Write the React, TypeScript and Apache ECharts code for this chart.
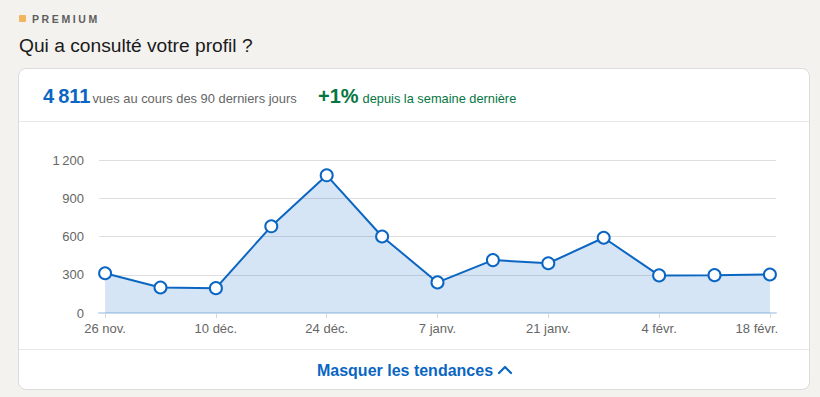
import React, { useEffect, useRef } from "react";
import * as echarts from "echarts";

const CATEGORIES = [
  "26 nov.", "3 déc.", "10 déc.", "17 déc.", "24 déc.", "31 déc.", "7 janv.",
  "14 janv.", "21 janv.", "28 janv.", "4 févr.", "11 févr.", "18 févr.",
];
const VIEWS = [312, 200, 195, 680, 1080, 600, 240, 415, 390, 590, 295, 297, 302];
const X_TICKS = [0, 2, 4, 6, 8, 10, 12];
const Y_MAX = 1200;
const Y_INTERVAL = 300;
const TOTAL_VIEWS = "4\u202f811";
const CHANGE = "+1%";

const FONT = '"Liberation Sans", Arial, Helvetica, sans-serif';
const BLUE = "#0a66c2";

function fmtNum(v: number): string {
  return v >= 1000 ? `${Math.floor(v / 1000)}\u202f${String(v % 1000).padStart(3, "0")}` : String(v);
}

function Chart() {
  const ref = useRef<HTMLDivElement>(null);
  useEffect(() => {
    if (!ref.current) return;
    const chart = echarts.init(ref.current, undefined, { renderer: "svg" });
    const lastIdx = CATEGORIES.length - 1;
    chart.setOption({
      animation: false,
      grid: { left: 99, right: 44, top: 160, bottom: 84 },
      xAxis: {
        type: "value",
        min: -0.11,
        max: lastIdx + 0.11,
        splitLine: { show: false },
        axisLine: { show: true, lineStyle: { color: "#c8dcef", width: 2 } },
        axisTick: { show: true, customValues: X_TICKS, length: 5, lineStyle: { color: "#d6d6d6", width: 1 } },
        axisLabel: {
          customValues: X_TICKS,
          formatter: (v: number) => {
            const i = Math.round(v);
            const s = CATEGORIES[i] ?? "";
            return i === lastIdx ? `{last|${s}}` : s;
          },
          color: "#666666",
          fontSize: 13,
          fontFamily: FONT,
          margin: 9,
          rich: {
            last: { color: "#666666", fontSize: 13, fontFamily: FONT, padding: [0, 26, 0, 0] },
          },
        },
      },
      yAxis: {
        type: "value",
        min: 0,
        max: Y_MAX,
        interval: Y_INTERVAL,
        axisLine: { show: false },
        axisTick: { show: false },
        splitLine: { lineStyle: { color: "#dedede", width: 1 } },
        axisLabel: {
          formatter: (v: number) => fmtNum(v),
          color: "#666666",
          fontSize: 13,
          fontFamily: FONT,
          margin: 15,
        },
      },
      series: [
        {
          type: "line",
          data: VIEWS.map((v, i) => [i, v]),
          symbol: "circle",
          symbolSize: 12,
          lineStyle: { color: BLUE, width: 2 },
          itemStyle: { color: "#ffffff", borderColor: BLUE, borderWidth: 2 },
          areaStyle: { color: "rgba(10,102,194,0.24)" },
          z: 3,
        },
      ],
    });
    return () => chart.dispose();
  }, []);
  return <div ref={ref} style={{ position: "absolute", left: 0, top: 0, width: 820, height: 397 }} />;
}

export default function App() {
  return (
    <div
      style={{
        position: "fixed",
        left: 0,
        top: 0,
        width: 820,
        height: 397,
        background: "#f3f2ef",
        overflow: "hidden",
        fontFamily: FONT,
      }}
    >
      <div style={{ position: "absolute", left: 19, top: 15, width: 7, height: 7, background: "#f2b45c", borderRadius: 1 }} />
      <div
        style={{
          position: "absolute",
          left: 32,
          top: 12,
          fontSize: 10.5,
          letterSpacing: 2.6,
          color: "#5e5e5e",
          fontWeight: 600,
          lineHeight: "14px",
        }}
      >
        PREMIUM
      </div>
      <div style={{ position: "absolute", left: 19, top: 33, fontSize: 19.2, color: "#1a1a1a", lineHeight: "26px" }}>
        Qui a consulté votre profil ?
      </div>
      <div
        style={{
          position: "absolute",
          left: 18,
          top: 68,
          width: 790,
          height: 320,
          background: "#ffffff",
          border: "1px solid #dcdcdc",
          borderRadius: 8,
        }}
      />
      <div style={{ position: "absolute", left: 19, top: 121, width: 790, height: 1, background: "#e8e8e8" }} />
      <div style={{ position: "absolute", left: 19, top: 349, width: 790, height: 1, background: "#e8e8e8" }} />
      <div style={{ position: "absolute", left: 43, top: 84, lineHeight: "24px", whiteSpace: "nowrap" }}>
        <span style={{ fontSize: 20, fontWeight: 700, color: BLUE }}>{TOTAL_VIEWS}</span>
        <span style={{ fontSize: 12.9, color: "#666666", marginLeft: 2 }}>vues au cours des 90 derniers jours</span>
      </div>
      <div style={{ position: "absolute", left: 318, top: 84, lineHeight: "24px", whiteSpace: "nowrap" }}>
        <span style={{ fontSize: 20, fontWeight: 700, color: "#057642" }}>{CHANGE}</span>
        <span style={{ fontSize: 12.8, color: "#057642", marginLeft: 4 }}>depuis la semaine dernière</span>
      </div>
      <Chart />
      <div
        style={{
          position: "absolute",
          left: 5,
          width: 820,
          top: 360,
          textAlign: "center",
          fontSize: 16,
          fontWeight: 700,
          color: BLUE,
          lineHeight: "22px",
        }}
      >
        Masquer les tendances
        <svg width="16" height="12" viewBox="0 0 16 12" style={{ marginLeft: 4, verticalAlign: "0px" }}>
          <polyline points="2,9 8,3 14,9" fill="none" stroke={BLUE} strokeWidth="2.2" strokeLinecap="round" strokeLinejoin="round" />
        </svg>
      </div>
    </div>
  );
}
